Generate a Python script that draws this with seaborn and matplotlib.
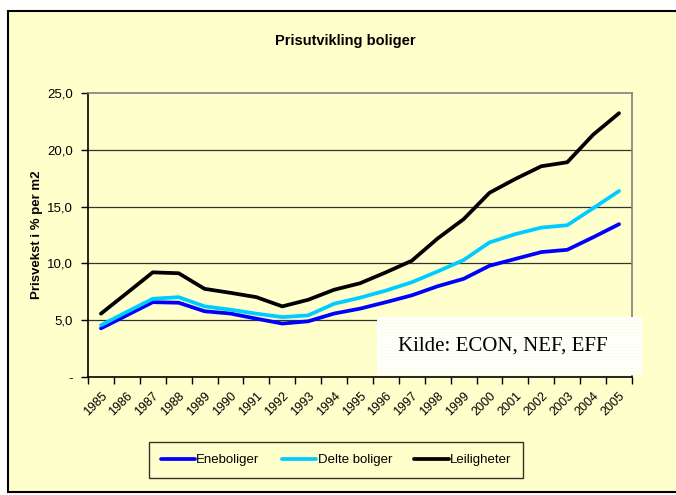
import numpy as np
import pandas as pd
import matplotlib
matplotlib.use("Agg")
import matplotlib.pyplot as plt
import seaborn as sns
from matplotlib.patches import Rectangle

# Data
years = [str(y) for y in range(1985, 2006)]
eneboliger = [4.3, 5.45, 6.6, 6.55, 5.8, 5.6, 5.15, 4.72, 4.92, 5.6, 6.03,
              6.6, 7.2, 8.0, 8.65, 9.8, 10.4, 11.0, 11.2, 12.3, 13.45]
delte_boliger = [4.57, 5.75, 6.9, 7.04, 6.23, 5.94, 5.59, 5.29, 5.44, 6.46, 6.99,
                 7.62, 8.35, 9.3, 10.3, 11.85, 12.58, 13.15, 13.36, 14.85, 16.36]
leiligheter = [5.59, 7.4, 9.22, 9.14, 7.77, 7.42, 7.04, 6.23, 6.81, 7.69, 8.26,
               9.22, 10.24, 12.2, 13.89, 16.21, 17.43, 18.54, 18.89, 21.31, 23.2]
series_names = ["Eneboliger", "Delte boliger", "Leiligheter"]
y_ticks = [0, 5, 10, 15, 20, 25]
y_labels = ["-", "5,0", "10,0", "15,0", "20,0", "25,0"]

df = pd.DataFrame({
    "idx": list(range(len(years))) * 3,
    "value": eneboliger + delte_boliger + leiligheter,
    "serie": sum([[n] * len(years) for n in series_names], []),
})

sns.set_style("white")
plt.rcParams["font.family"] = ["Liberation Sans", "DejaVu Sans"]
plt.rcParams["text.color"] = "black"
plt.rcParams["axes.labelcolor"] = "black"
plt.rcParams["xtick.color"] = "black"
plt.rcParams["ytick.color"] = "black"

bg = "#FFFFCC"
W, H = 676, 495
fig = plt.figure(figsize=(W / 100, H / 100), dpi=100)
fig.patch.set_facecolor("white")

# outer chart frame
fig.patches.append(Rectangle((8 / W, 1 - 492 / H), 1.0, (492 - 11) / H,
                             transform=fig.transFigure, facecolor=bg,
                             edgecolor="black", linewidth=1.5, zorder=-5))

ax = fig.add_axes([88 / W, 1 - 377.3 / H, 544 / W, (377.3 - 92.7) / H])
ax.set_facecolor(bg)

palette = {"Eneboliger": "#0000FF", "Delte boliger": "#00CCFF", "Leiligheter": "#000000"}
sns.lineplot(data=df, x="idx", y="value", hue="serie", hue_order=series_names,
             palette=palette, linewidth=2.7, ax=ax, legend=True, zorder=3)

ax.set_xlim(-0.5, len(years) - 0.5)
ax.set_ylim(0, 25)
ax.set_yticks(y_ticks)
ax.set_yticklabels(y_labels, fontsize=9.5)
for v in y_ticks[1:-1]:
    ax.axhline(v, color="#333333", linewidth=0.9, zorder=1)

ax.set_xticks(np.arange(-0.5, len(years), 1.0))
ax.set_xticklabels([])
ax.set_xticks(np.arange(len(years)), minor=True)
ax.set_xticklabels(years, minor=True, rotation=45, ha="right",
                   rotation_mode="anchor", fontsize=9)
ax.tick_params(axis="x", which="major", direction="out", length=5, width=1,
               color="black", bottom=True)
ax.tick_params(axis="x", which="minor", length=0, pad=9)
ax.tick_params(axis="y", direction="out", length=5, width=1, color="black",
               left=True, pad=6)

for side in ["left", "bottom"]:
    ax.spines[side].set_color("black")
    ax.spines[side].set_linewidth(1.2)
for side in ["top", "right"]:
    ax.spines[side].set_color("#808080")
    ax.spines[side].set_linewidth(1.2)

ax.set_xlabel("")
ax.set_ylabel("Prisvekst i % per m2", fontsize=9.5, fontweight="bold", labelpad=3)

handles, labels = ax.get_legend_handles_labels()
ax.get_legend().remove()
leg = fig.legend(handles, labels, loc="center", bbox_to_anchor=(336 / W, 1 - 460 / H),
                 ncol=3, frameon=True, fancybox=False, fontsize=9.5,
                 handlelength=2.6, handletextpad=0.1, columnspacing=1.7,
                 borderpad=0.9)
leg.get_frame().set_edgecolor("black")
leg.get_frame().set_facecolor(bg)
leg.get_frame().set_linewidth(1.0)

fig.text(345 / W, 1 - 41 / H, "Prisutvikling boliger", ha="center", va="center",
         fontsize=10.5, fontweight="bold")

# source box
fig.patches.append(Rectangle((377 / W, 1 - 375 / H), (642 - 377) / W, (375 - 317) / H,
                             transform=fig.transFigure, facecolor="white",
                             edgecolor="none", zorder=5))
for yy in np.arange(320, 374, 3):
    fig.lines.append(plt.Line2D([379 / W, 640 / W], [1 - yy / H, 1 - yy / H],
                                transform=fig.transFigure, color="#FFFFE0",
                                linewidth=0.6, zorder=6))
fig.text(503 / W, 1 - 346 / H, "Kilde: ECON, NEF, EFF", ha="center", va="center",
         fontsize=15, family=["Liberation Serif", "DejaVu Serif"], zorder=7)

fig.savefig("out.png", dpi=100)
